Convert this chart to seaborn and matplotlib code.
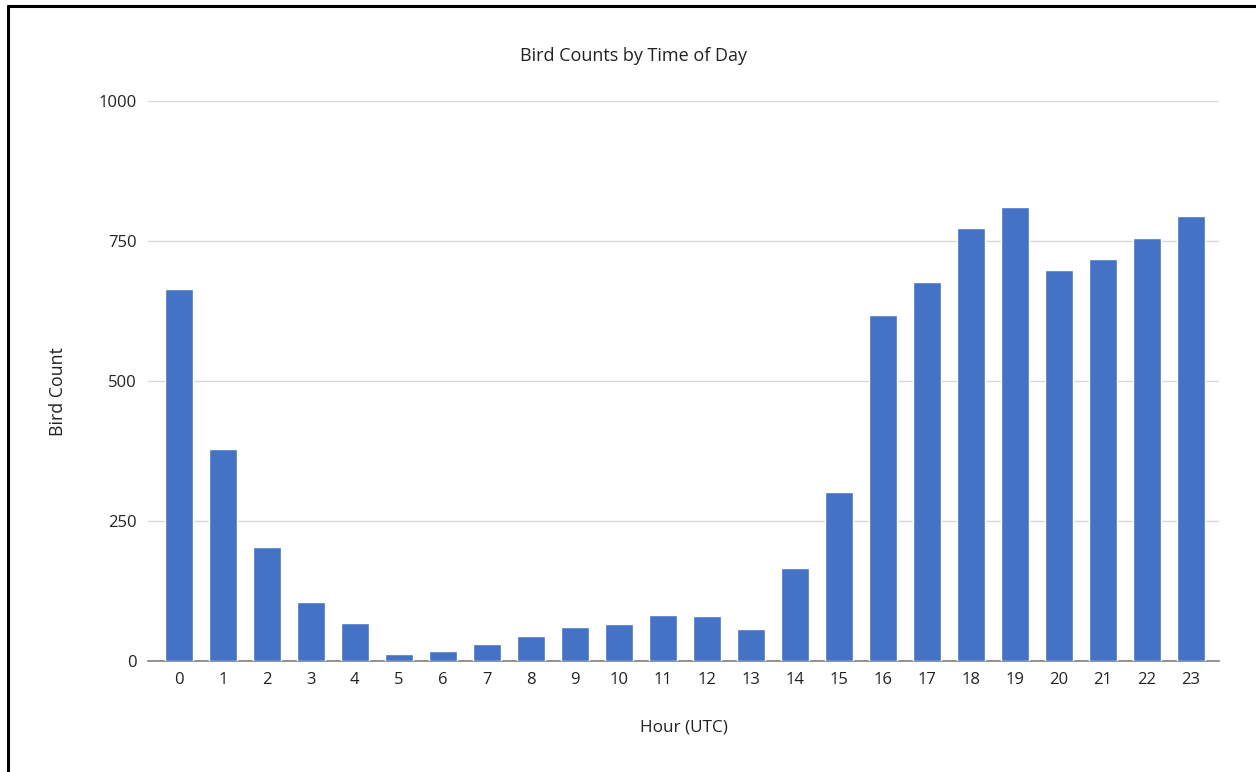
import matplotlib
matplotlib.use("Agg")
import matplotlib.pyplot as plt
from matplotlib.lines import Line2D
import seaborn as sns
import pandas as pd

hours = [str(h) for h in range(24)]
bird_counts = [664, 379, 204, 105, 68, 13, 17, 30, 45, 60, 66, 83, 81, 58,
               166, 301, 617, 676, 774, 810, 698, 717, 755, 795]
y_ticks = [0, 250, 500, 750, 1000]

df = pd.DataFrame({"hour": hours, "count": bird_counts})

sns.set_theme(style="white")
plt.rcParams["font.family"] = ["Open Sans", "DejaVu Sans"]

fig = plt.figure(figsize=(12.56, 7.72), dpi=100)
ax = fig.add_axes([148 / 1256, 1 - 661 / 772, 1071 / 1256, 560 / 772])

sns.barplot(data=df, x="hour", y="count", color="#4472C4", saturation=1,
            width=0.64, ax=ax, zorder=3)

ax.set_ylim(0, 1000)
ax.set_xlim(-0.70, 23.64)
ax.set_yticks(y_ticks)
ax.yaxis.grid(True, color="#D9D9D9", linewidth=1, zorder=0)
ax.set_axisbelow(True)
for side in ["top", "right", "left"]:
    ax.spines[side].set_visible(False)
ax.spines["bottom"].set_color("#7F7F7F")
ax.spines["bottom"].set_linewidth(1.2)
ax.tick_params(axis="both", length=0, labelsize=12, colors="#222222")
ax.tick_params(axis="y", pad=8)
ax.tick_params(axis="x", pad=8)

ax.set_xlabel("")
ax.set_ylabel("")
fig.text(684 / 1256, 1 - 728 / 772, "Hour (UTC)", ha="center", va="center",
         fontsize=12.3, color="#222222")
fig.text(58 / 1256, 1 - 392 / 772, "Bird Count", ha="center", va="center",
         rotation=90, fontsize=12.8, color="#222222")
fig.text(633 / 1256, 1 - 56 / 772, "Bird Counts by Time of Day", ha="center",
         va="center", fontsize=13, color="#222222")

# frame lines along the top and left edges
fig.add_artist(Line2D([8 / 1256, 8 / 1256], [0, 1 - 6 / 772],
                      transform=fig.transFigure, color="black", linewidth=2.2))
fig.add_artist(Line2D([8 / 1256, 1], [1 - 6 / 772, 1 - 6 / 772],
                      transform=fig.transFigure, color="black", linewidth=2.2))

fig.savefig("out.png", dpi=100, facecolor="white")
